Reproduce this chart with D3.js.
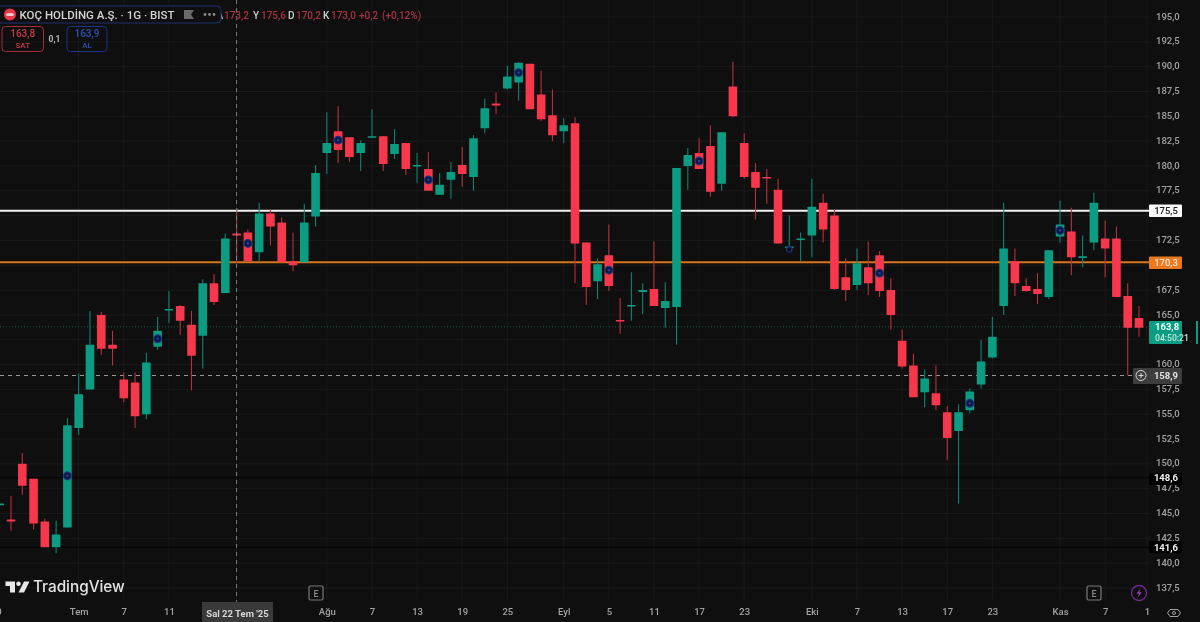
<!DOCTYPE html>
<html>
<head>
<meta charset="utf-8">
<script src="https://cdn.jsdelivr.net/npm/d3@7"></script>
<style>
  html, body { margin: 0; padding: 0; background: #0f0f0f; overflow: hidden; }
  svg { display: block; font-family: Roboto, "Noto Sans", sans-serif; filter: blur(0.3px); }
</style>
</head>
<body>
<div id="chart"></div>
<script>
// KOC daily candles, first entry is the bar cut off by the left edge (index -1)
const opens = [145.9,
  144.4,150.0,148.5,144.2,141.6,143.6,153.6,157.5,165.0,162.0,
  158.5,158.2,155.0,161.8,165.5,165.9,164.0,162.9,168.2,167.2,
  173.2,173.3,171.3,175.2,174.3,170.4,170.3,174.9,181.3,183.5,
  182.9,181.3,182.9,183.0,181.2,182.3,180.0,179.7,177.1,178.6,
  180.1,178.9,183.8,186.3,187.8,188.4,190.3,187.2,185.1,183.5,
  184.3,172.3,168.4,171.0,164.5,165.9,167.3,167.6,165.7,165.8,
  180.0,181.3,182.0,178.2,188.0,182.3,179.4,178.9,177.6,171.8,
  172.6,173.0,176.3,175.0,168.8,168.0,169.8,171.0,167.5,162.4,
  159.9,157.2,157.1,155.2,153.3,155.4,158.0,160.7,165.9,170.4,
  167.9,167.6,166.8,172.9,173.4,170.8,172.3,172.7,172.7,166.9,164.7];
const highs = [146.0,
  146.8,151.1,148.5,144.5,144.3,154.6,159.1,165.4,165.3,163.4,
  159.2,159.2,161.2,164.8,167.4,166.0,165.4,168.6,169.1,173.2,
  175.6,173.6,176.3,175.6,174.8,173.3,176.2,180.1,185.4,186.0,
  182.9,182.6,185.7,183.0,183.7,182.3,181.3,181.4,179.3,180.4,
  181.9,183.1,186.8,187.4,190.1,190.4,190.3,189.6,187.7,184.8,
  184.9,172.3,170.7,174.1,166.7,169.3,168.2,172.4,168.3,179.8,
  181.8,182.8,184.1,183.4,190.5,183.3,180.3,179.7,178.7,175.0,
  173.3,178.7,177.2,175.6,170.7,171.7,172.4,171.4,168.7,163.5,
  161.1,159.5,159.9,155.8,156.0,157.6,162.5,164.8,176.3,171.7,
  168.7,169.2,171.5,176.5,175.8,173.0,177.3,174.5,173.9,168.2,165.9];
const lows = [145.9,
  143.3,146.9,143.4,141.6,141.0,143.6,152.9,157.5,161.0,159.9,
  156.2,153.6,154.5,161.5,164.2,163.0,157.4,159.6,166.0,167.2,
  170.2,170.4,170.4,172.0,170.3,169.4,170.3,173.9,179.2,180.3,
  180.4,179.5,182.9,179.5,180.7,179.1,178.3,177.5,177.1,176.7,
  177.9,177.5,183.3,185.2,187.7,186.6,185.7,184.5,182.5,182.3,
  168.2,166.0,166.6,167.4,163.1,164.4,165.1,165.9,163.7,162.0,
  177.6,179.7,176.9,177.5,184.9,178.7,174.6,176.2,172.2,171.8,
  170.4,170.8,172.3,167.5,166.4,167.5,167.0,166.8,163.5,159.6,
  156.7,155.7,155.4,150.4,146.0,155.1,157.6,160.6,165.0,166.9,
  167.3,166.1,166.6,172.3,169.0,169.8,171.5,168.8,166.8,158.9,162.8];
const closes = [146.0,
  144.2,147.8,144.0,141.6,142.9,153.9,157.0,162.0,161.6,161.6,
  156.6,154.8,160.2,163.4,165.6,164.4,160.9,168.2,166.3,172.7,
  173.0,170.4,175.2,173.9,170.3,170.0,174.3,179.3,182.3,181.6,
  180.9,182.3,183.0,180.2,182.2,179.7,180.1,177.5,178.1,179.4,
  179.2,182.8,185.8,186.1,189.0,190.4,185.7,184.7,183.1,184.1,
  172.2,167.8,170.1,167.9,164.4,166.0,167.5,165.9,166.4,179.8,
  181.1,179.7,177.4,183.4,185.0,178.9,177.8,178.8,172.2,171.9,
  172.7,175.9,173.6,167.6,167.5,170.2,168.2,167.4,165.0,159.8,
  156.7,158.6,155.9,152.6,155.2,157.3,160.3,162.8,171.7,168.2,
  167.4,167.1,171.5,174.1,170.8,170.9,176.3,171.7,166.8,163.7,163.7];

// indicator dots, every eighth bar
const dotBars = [5, 13, 21, 29, 37, 45, 53, 61, 69, 77, 85, 93];
const dotPrices = [148.8, 162.6, 172.2, 182.6, 178.6, 189.4, 169.5, 180.5, 171.6, 169.2, 156.1, 173.5];

const priceTicks = d3.range(137.5, 195.1, 2.5);
// these three sit fully behind the coloured price tags
const coveredTicks = [162.5, 170, 175];
const timeTickBars = [-1.35, 6, 10, 14, 28, 32, 36, 40, 44, 49, 53, 57, 61, 65, 71, 75, 79, 83, 87, 93, 97, 100.7];
const timeTickLabels = ['30', 'Tem', '7', '11', 'Ağu', '7', '13', '19', '25', 'Eyl', '5', '11', '17', '23', 'Eki', '7', '13', '17', '23', 'Kas', '7', '1'];

const RED = '#f7374c', GREEN = '#0b9c82';
const W = 1200, H = 622;
const fmt = v => v.toFixed(1).replace('.', ',');

const x = d3.scaleLinear().domain([0, 100]).range([11, 1139]);
const y = d3.scaleLinear().domain([137.5, 195]).range([588, 17]);

const svg = d3.select('#chart').append('svg').attr('width', W).attr('height', H);
svg.append('rect').attr('width', W).attr('height', H).attr('fill', '#0f0f0f');

// grid
const grid = svg.append('g').attr('stroke', '#1a1a1a').attr('stroke-width', 1);
grid.selectAll('.h').data(priceTicks).join('line').attr('class', 'h')
  .attr('x1', 0).attr('x2', 1150).attr('y1', d => y(d)).attr('y2', d => y(d));
grid.selectAll('.v').data(timeTickBars.slice(1).concat([20])).join('line').attr('class', 'v')
  .attr('x1', d => x(d)).attr('x2', d => x(d)).attr('y1', 0).attr('y2', 600);

// price axis
const yAxis = svg.append('g').attr('transform', 'translate(1155,0)')
  .call(d3.axisRight(y).tickValues(priceTicks.filter(t => !coveredTicks.includes(t)))
    .tickFormat(fmt).tickSize(0).tickPadding(1));
yAxis.select('.domain').remove();
yAxis.selectAll('text').attr('fill', '#a3a3a3').attr('font-size', 9.5).attr('font-weight', 500)
  .attr('font-family', 'Roboto').attr('dy', '0.22em');

// time axis
const xAxis = svg.append('g').attr('transform', 'translate(0,608)')
  .call(d3.axisBottom(x).tickValues(timeTickBars)
    .tickFormat(d => timeTickLabels[timeTickBars.indexOf(d)]).tickSize(0).tickPadding(0));
xAxis.select('.domain').remove();
xAxis.selectAll('text').attr('fill', '#a3a3a3').attr('font-size', 9.5).attr('font-weight', 500)
  .attr('font-family', 'Roboto');

// level lines under the candles
const hline = (price, color, width, dash, x2) => svg.append('line')
  .attr('x1', 0).attr('x2', x2).attr('y1', y(price)).attr('y2', y(price))
  .attr('stroke', color).attr('stroke-width', width).attr('stroke-dasharray', dash);
hline(148.6, '#000', 1, null, 1150);
hline(141.6, '#000', 1, null, 1150);
hline(163.8, '#0c5a4d', 1, '1,2', 1150);
hline(158.9, '#9a9a9a', 1, '4,4', 1133);
hline(175.5, '#f2f2f2', 2, null, 1150);
hline(170.3, '#d9761c', 2, null, 1150);

// candles
const bars = d3.range(opens.length).map(i => ({
  i: i - 1, o: opens[i], h: highs[i], l: lows[i], c: closes[i]
}));
const candle = svg.append('g').selectAll('g').data(bars).join('g');
candle.append('line')
  .attr('x1', d => x(d.i)).attr('x2', d => x(d.i))
  .attr('y1', d => y(d.h)).attr('y2', d => y(d.l))
  .attr('stroke', d => d.c >= d.o ? '#0c8570' : '#b8303f')
  .attr('stroke-width', 1.1);
candle.append('rect')
  .attr('x', d => x(d.i) - 4.3).attr('width', 8.6)
  .attr('y', d => y(Math.max(d.o, d.c)))
  .attr('height', d => Math.max(1.6, Math.abs(y(d.o) - y(d.c))))
  .attr('rx', 0.5)
  .attr('fill', d => d.c >= d.o ? GREEN : RED);

// indicator dots
const dots = svg.append('g').selectAll('g').data(dotBars).join('g')
  .attr('transform', (d, k) => `translate(${x(d)},${y(dotPrices[k])})`);
dots.append('circle').attr('r', d => d === 69 ? 2.8 : 3.8)
  .attr('fill', d => d === 69 ? '#0f0f0f' : '#0c1740')
  .attr('stroke', '#1d337f').attr('stroke-width', 1.3);
dots.filter(d => d !== 69).append('circle').attr('r', 1.3).attr('fill', '#1f3f9c');

// crosshair
svg.append('line').attr('x1', x(20)).attr('x2', x(20)).attr('y1', 0).attr('y2', 602)
  .attr('stroke', '#7c7c7c').attr('stroke-width', 1).attr('stroke-dasharray', '4,4');

// right side labels
const tag = (price, top, h, bg, color, weight, text, left) => {
  svg.append('rect').attr('x', left || 1149).attr('y', top).attr('width', 1182 - (left || 1149)).attr('height', h)
    .attr('fill', bg).attr('rx', 1);
  svg.append('text').attr('x', 1166).attr('y', y(price) + 3.3).attr('text-anchor', 'middle')
    .attr('fill', color).attr('font-size', 9.5).attr('font-weight', weight).text(text);
};
tag(175.5, 204.5, 12.5, '#fafafa', '#1a1a1a', 500, '175,5');
tag(170.3, 256.5, 12.5, '#ec7a1c', '#f4e4d4', 500, '170,3');
tag(148.6, 473, 12, '#000', '#f0f0f0', 700, '148,6');
tag(141.6, 541, 12, '#000', '#f0f0f0', 700, '141,6');
tag(158.9, 368, 16, '#3d3d3d', '#e2e2e2', 700, '158,9', 1133);
svg.append('circle').attr('cx', 1141).attr('cy', y(158.9)).attr('r', 5)
  .attr('fill', 'none').attr('stroke', '#d8d8d8').attr('stroke-width', 1);
svg.append('path').attr('d', `M1138.5,${y(158.9)}h5M1141,${y(158.9) - 2.5}v5`).attr('stroke', '#d8d8d8').attr('stroke-width', 1);

svg.append('rect').attr('x', 1149).attr('y', 321).attr('width', 33).attr('height', 23).attr('fill', GREEN).attr('rx', 1);
svg.append('rect').attr('x', 1196).attr('y', 321).attr('width', 2).attr('height', 23).attr('fill', GREEN);
svg.append('text').attr('x', 1155).attr('y', 330).attr('fill', '#eafff8').attr('font-size', 9.5).attr('font-weight', 700).text('163,8');
svg.append('text').attr('x', 1155).attr('y', 341).attr('fill', '#bfe8de').attr('font-size', 8.6).attr('font-weight', 500).text('04:50:21');

// header values, the box below covers most of the leading A
const legendParts = [['A', '#cfcfcf', 216.5], ['173,2', '#a83240', 224], ['Y', '#cfcfcf', 253], ['175,6', '#a83240', 261],
  ['D', '#cfcfcf', 288], ['170,2', '#a83240', 296], ['K', '#cfcfcf', 323], ['173,0', '#a83240', 331],
  ['+0,2', '#a83240', 359], ['(+0,12%)', '#a83240', 382]];
svg.append('g').selectAll('text').data(legendParts).join('text')
  .attr('x', d => d[2]).attr('y', 18.5).attr('fill', d => d[1])
  .attr('font-size', 10).attr('font-weight', 500).text(d => d[0]);

svg.append('rect').attr('x', -3).attr('y', 6).attr('width', 224).attr('height', 17).attr('rx', 4)
  .attr('fill', '#0f0f0f').attr('stroke', '#1d3375').attr('stroke-width', 1);
svg.append('circle').attr('cx', 10).attr('cy', 14.5).attr('r', 6).attr('fill', '#e8394a');
svg.append('ellipse').attr('cx', 10).attr('cy', 14.5).attr('rx', 4).attr('ry', 1.6).attr('fill', '#f6d0d4');
svg.append('text').attr('x', 19.5).attr('y', 19).attr('fill', '#d4d4d4').attr('font-size', 11.5).attr('font-weight', 500)
  .text('KOÇ HOLDİNG A.Ş. · 1G · BIST');
svg.append('path').attr('d', 'M184,10h10l-3,4.5l3,4.5h-10z').attr('fill', '#6a6a6a');
svg.selectAll('.menu').data([205, 209.5, 214]).join('circle').attr('class', 'menu')
  .attr('cx', d => d).attr('cy', 14.5).attr('r', 1.4).attr('fill', '#8a8a8a');

const orderBox = (bx, bw, color, tc, price, label) => {
  svg.append('rect').attr('x', bx).attr('y', 26.5).attr('width', bw).attr('height', 25).attr('rx', 3.5)
    .attr('fill', 'none').attr('stroke', color).attr('stroke-width', 1);
  svg.append('text').attr('x', bx + bw / 2).attr('y', 37).attr('text-anchor', 'middle')
    .attr('fill', tc).attr('font-size', 10).attr('font-weight', 500).text(price);
  svg.append('text').attr('x', bx + bw / 2).attr('y', 48).attr('text-anchor', 'middle')
    .attr('fill', tc).attr('font-size', 8).attr('font-weight', 500).text(label);
};
orderBox(2, 41.5, '#9c2f3b', '#c93a48', '163,8', 'SAT');
orderBox(67, 40, '#1d3680', '#2b50b8', '163,9', 'AL');
svg.append('text').attr('x', 54.5).attr('y', 42).attr('text-anchor', 'middle')
  .attr('fill', '#b5b5b5').attr('font-size', 8.5).attr('font-weight', 700).text('0,1');

// crosshair date
svg.append('rect').attr('x', 202).attr('y', 602).attr('width', 71).attr('height', 20).attr('fill', '#3a3a3a');
svg.append('text').attr('x', 237.5).attr('y', 617).attr('text-anchor', 'middle')
  .attr('fill', '#d8d8d8').attr('font-size', 9.5).attr('font-weight', 700).text("Sal 22 Tem '25");

// watermark
svg.append('path').attr('d', 'M5.5,581.5H15V592.5H10V586H5.5Z M24,581.5H29.5L24,592.5H18.5Z').attr('fill', '#e8e8e8');
svg.append('circle').attr('cx', 18.5).attr('cy', 583.8).attr('r', 2.3).attr('fill', '#e8e8e8');
svg.append('text').attr('x', 33).attr('y', 592).attr('fill', '#e4e4e4').attr('font-size', 15.3).attr('font-weight', 500)
  .attr('font-family', 'Inter, Roboto').text('TradingView');

// event badges
[316, 1094].forEach(bx => {
  svg.append('rect').attr('x', bx - 7).attr('y', 586).attr('width', 14).attr('height', 14).attr('rx', 1.5)
    .attr('fill', 'none').attr('stroke', '#7a7a7a').attr('stroke-width', 1.2);
  svg.append('text').attr('x', bx).attr('y', 596.5).attr('text-anchor', 'middle')
    .attr('fill', '#8c8c8c').attr('font-size', 9).attr('font-weight', 500).text('E');
});
svg.append('circle').attr('cx', 1139).attr('cy', 593).attr('r', 7.5)
  .attr('fill', 'none').attr('stroke', '#6f2a92').attr('stroke-width', 1.3);
svg.append('path').attr('d', 'M1140.5,588.5L1136.5,593.8H1139L1137.8,597.5L1141.8,592.2H1139.2Z').attr('fill', '#9a3cc4');
svg.append('path').attr('d', 'M1170,609.5h8l2.5,3.5l-2.5,3.5h-8l-2.5,-3.5z').attr('fill', 'none').attr('stroke', '#a0a0a0').attr('stroke-width', 1);
svg.append('circle').attr('cx', 1174).attr('cy', 613).attr('r', 1.5).attr('fill', 'none').attr('stroke', '#a0a0a0');
</script>
</body>
</html>
